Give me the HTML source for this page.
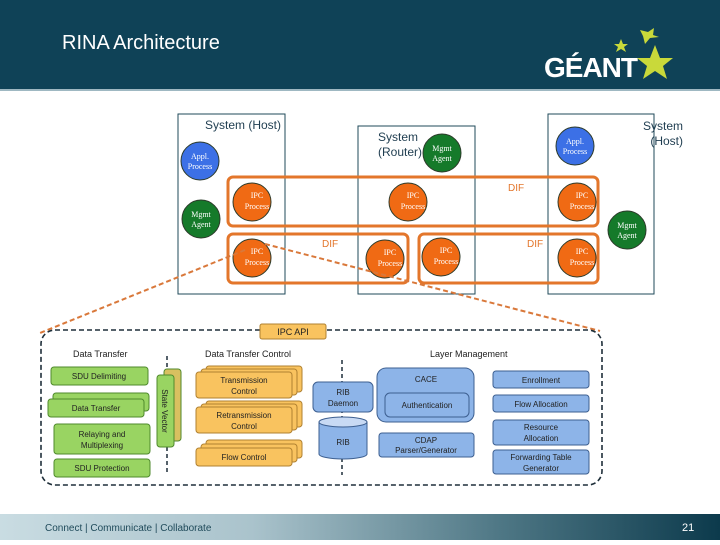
<!DOCTYPE html>
<html><head><meta charset="utf-8"><style>
body{margin:0;width:720px;height:540px;overflow:hidden;background:#fff;font-family:"Liberation Sans",sans-serif}
</style></head><body>
<svg width="720" height="540" viewBox="0 0 720 540" xmlns="http://www.w3.org/2000/svg" font-family="Liberation Sans, sans-serif">
<defs>
<linearGradient id="ft" x1="0" x2="1" y1="0" y2="0">
<stop offset="0" stop-color="#c9dce2"/><stop offset="0.35" stop-color="#aac3cc"/><stop offset="0.7" stop-color="#4d7684"/><stop offset="1" stop-color="#0c3a4c"/></linearGradient>
</defs>
<rect x="0" y="0" width="720" height="89" fill="#0f4257"/>
<rect x="0" y="89" width="720" height="2" fill="#9fb8c2"/>
<text x="62" y="49" fill="#fff" font-size="20">RINA Architecture</text>
<text x="544" y="77" fill="#fff" font-size="28" font-weight="bold" letter-spacing="-1">GÉANT</text>
<polygon points="655,45 660,58 673,58 663,66 667,79 655,71 643,79 647,66 637,58 650,58" fill="#c9d93a"/>
<polygon points="621,39 623,44 628,44 624,47 626,52 621,49 616,52 618,47 614,44 619,44" fill="#c9d93a"/>
<polygon points="640,30 648,32 654,28 653,35 659,37 650,38 645,44 643,36" fill="#c9d93a"/>
<rect x="0" y="514" width="720" height="26" fill="url(#ft)"/>
<text x="45" y="531" fill="#1f4a5a" font-size="10">Connect | Communicate | Collaborate</text>
<text x="682" y="531" fill="#fff" font-size="11">21</text>

<g fill="none" stroke="#1f4a5a" stroke-width="1">
<rect x="178" y="114" width="107" height="180"/>
<rect x="358" y="126" width="117" height="168"/>
<rect x="548" y="114" width="106" height="180"/>
</g>
<g fill="#1f3d50" font-size="12">
<text x="205" y="129">System (Host)</text>
<text x="378" y="141">System</text><text x="378" y="156">(Router)</text>
<text x="683" y="130" text-anchor="end">System</text><text x="683" y="145" text-anchor="end">(Host)</text>
</g>
<g fill="none" stroke="#e3762b" stroke-width="3">
<rect x="228" y="177" width="370" height="49" rx="5"/>
<rect x="228" y="234" width="180" height="49" rx="5"/>
<rect x="419" y="234" width="179" height="49" rx="5"/>
</g>
<g fill="#e3762b" font-size="10">
<text x="508" y="191">DIF</text><text x="322" y="247">DIF</text><text x="527" y="247">DIF</text>
</g>
<g stroke="#2d3b2b" stroke-width="1">
<circle cx="200" cy="161" r="19" fill="#3c70e6"/>
<circle cx="575" cy="146" r="19" fill="#3c70e6"/>
<circle cx="201" cy="219" r="19" fill="#157a2a"/>
<circle cx="442" cy="153" r="19" fill="#157a2a"/>
<circle cx="627" cy="230" r="19" fill="#157a2a"/>
<g fill="#f06a14">
<circle cx="252" cy="202" r="19"/><circle cx="408" cy="202" r="19"/><circle cx="577" cy="202" r="19"/>
<circle cx="252" cy="258" r="19"/><circle cx="385" cy="259" r="19"/><circle cx="441" cy="257" r="19"/><circle cx="577" cy="258" r="19"/>
</g></g>
<g fill="#fff" font-family="Liberation Serif, serif" font-size="8" text-anchor="middle">
<text x="200" y="159">Appl.</text><text x="200" y="169">Process</text>
<text x="575" y="144">Appl.</text><text x="575" y="154">Process</text>
<text x="201" y="217">Mgmt</text><text x="201" y="227">Agent</text>
<text x="442" y="151">Mgmt</text><text x="442" y="161">Agent</text>
<text x="627" y="228">Mgmt</text><text x="627" y="238">Agent</text>
<text x="257" y="198">IPC</text><text x="257" y="209">Process</text>
<text x="413" y="198">IPC</text><text x="413" y="209">Process</text>
<text x="582" y="198">IPC</text><text x="582" y="209">Process</text>
<text x="257" y="254">IPC</text><text x="257" y="265">Process</text>
<text x="390" y="255">IPC</text><text x="390" y="266">Process</text>
<text x="446" y="253">IPC</text><text x="446" y="264">Process</text>
<text x="582" y="254">IPC</text><text x="582" y="265">Process</text>
</g>
<g stroke="#d9783a" stroke-width="2" stroke-dasharray="5,3" fill="none">
<line x1="245" y1="250" x2="40" y2="333"/>
<line x1="265" y1="244" x2="600" y2="331"/>
</g>
<rect x="41" y="330" width="561" height="155" rx="14" fill="none" stroke="#1f2f3a" stroke-width="1.6" stroke-dasharray="5,3"/>
<rect x="260" y="324" width="66" height="15" rx="2" fill="#f9c35f" stroke="#b08030"/>
<text x="293" y="335" font-size="9" text-anchor="middle" fill="#222">IPC API</text>
<g font-size="9" fill="#222">
<text x="73" y="357">Data Transfer</text>
<text x="205" y="357">Data Transfer Control</text>
<text x="430" y="357">Layer Management</text>
</g>
<g stroke="#1f2f3a" stroke-width="1.5" stroke-dasharray="4,3">
<line x1="167" y1="356" x2="167" y2="475"/>
<line x1="342" y1="360" x2="342" y2="475"/>
</g>
<g fill="#99d462" stroke="#4f8a2c" stroke-width="1">
<rect x="51" y="367" width="97" height="18" rx="3"/>
<rect x="53" y="393" width="96" height="18" rx="3"/>
<rect x="48" y="399" width="96" height="18" rx="3"/>
<rect x="54" y="424" width="96" height="30" rx="3"/>
<rect x="54" y="459" width="96" height="18" rx="3"/>
<rect x="164" y="369" width="17" height="72" rx="3" fill="#d8c060"/>
<rect x="157" y="375" width="17" height="72" rx="3"/>
</g>
<g font-size="8" fill="#222" text-anchor="middle">
<text x="99" y="379">SDU Delimiting</text>
<text x="96" y="411">Data Transfer</text>
<text x="102" y="437">Relaying and</text><text x="102" y="448">Multiplexing</text>
<text x="102" y="471">SDU Protection</text>
<text transform="translate(162,411) rotate(90)" x="0" y="0">State Vector</text>
</g>
<g fill="#f9c35f" stroke="#b08030" stroke-width="1">
<rect x="206" y="366" width="96" height="26" rx="3"/><rect x="201" y="369" width="96" height="26" rx="3"/><rect x="196" y="372" width="96" height="26" rx="3"/>
<rect x="206" y="401" width="96" height="26" rx="3"/><rect x="201" y="404" width="96" height="26" rx="3"/><rect x="196" y="407" width="96" height="26" rx="3"/>
<rect x="206" y="440" width="96" height="18" rx="3"/><rect x="201" y="444" width="96" height="18" rx="3"/><rect x="196" y="448" width="96" height="18" rx="3"/>
</g>
<g font-size="8" fill="#222" text-anchor="middle">
<text x="244" y="383">Transmission</text><text x="244" y="394">Control</text>
<text x="244" y="418">Retransmission</text><text x="244" y="429">Control</text>
<text x="244" y="460">Flow Control</text>
</g>
<g fill="#8db4e8" stroke="#3d5f90" stroke-width="1">
<rect x="313" y="382" width="60" height="30" rx="5"/>
<path d="M319,422 L319,454 A24,5 0 0 0 367,454 L367,422"/>
<ellipse cx="343" cy="422" rx="24" ry="5" fill="#c8daf4"/>
<rect x="377" y="368" width="97" height="54" rx="9"/>
<rect x="385" y="393" width="84" height="24" rx="5"/>
<rect x="379" y="433" width="95" height="24" rx="3"/>
<rect x="493" y="371" width="96" height="17" rx="3"/>
<rect x="493" y="395" width="96" height="17" rx="3"/>
<rect x="493" y="420" width="96" height="25" rx="3"/>
<rect x="493" y="450" width="96" height="24" rx="3"/>
</g>
<g font-size="8" fill="#222" text-anchor="middle">
<text x="343" y="395">RIB</text><text x="343" y="406">Daemon</text>
<text x="343" y="445">RIB</text>
<text x="426" y="382">CACE</text>
<text x="427" y="408">Authentication</text>
<text x="426" y="443">CDAP</text><text x="426" y="453">Parser/Generator</text>
<text x="541" y="383">Enrollment</text>
<text x="541" y="407">Flow Allocation</text>
<text x="541" y="430">Resource</text><text x="541" y="441">Allocation</text>
<text x="541" y="460">Forwarding Table</text><text x="541" y="471">Generator</text>
</g>
</svg>
</body></html>
